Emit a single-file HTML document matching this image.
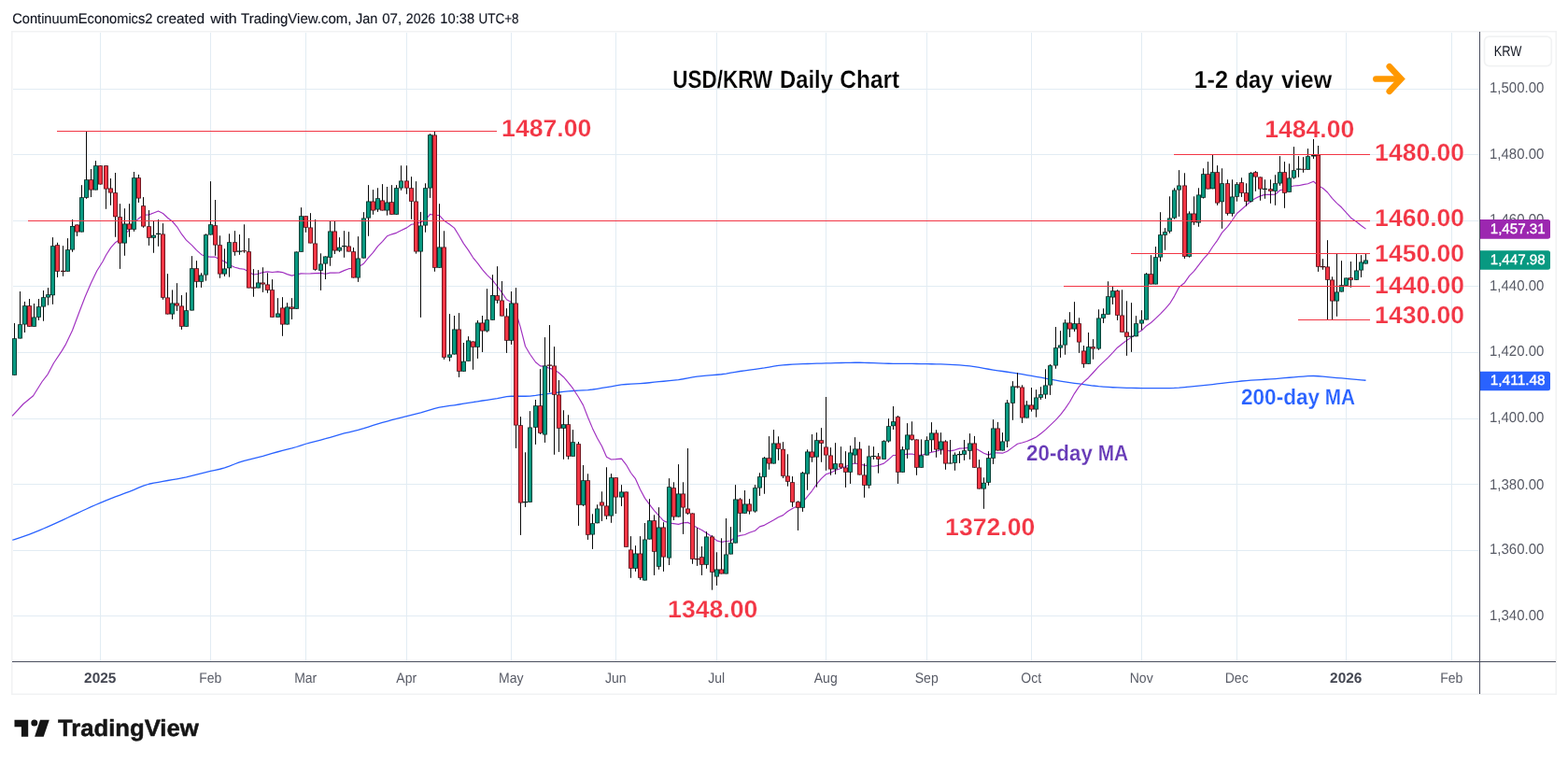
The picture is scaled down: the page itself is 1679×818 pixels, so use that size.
<!DOCTYPE html>
<html lang="en"><head><meta charset="utf-8"><title>USD/KRW Daily Chart</title>
<style>html,body{margin:0;padding:0;background:#ffffff;}body{width:1679px;height:818px;overflow:hidden;position:relative;font-family:"Liberation Sans",Arial,sans-serif;}svg{position:absolute;left:0;top:0;display:block;}text{font-family:"Liberation Sans",Arial,sans-serif;text-rendering:geometricPrecision;}.b{font-weight:bold;}</style>
</head><body>
<svg width="1679" height="818" viewBox="0 0 1679 818">
<rect x="0" y="0" width="1679" height="818" fill="#ffffff"/>
<rect x="12.75" y="33.75" width="1653.5" height="709.5" fill="#ffffff" stroke="#f1f2f3" stroke-width="1.5"/>
<g stroke="#e2ecf3" stroke-width="1" shape-rendering="crispEdges">
<line x1="14" y1="95.5" x2="1584" y2="95.5"/>
<line x1="14" y1="165.5" x2="1584" y2="165.5"/>
<line x1="14" y1="236.5" x2="1584" y2="236.5"/>
<line x1="14" y1="306.5" x2="1584" y2="306.5"/>
<line x1="14" y1="377.5" x2="1584" y2="377.5"/>
<line x1="14" y1="448.5" x2="1584" y2="448.5"/>
<line x1="14" y1="518.5" x2="1584" y2="518.5"/>
<line x1="14" y1="589.5" x2="1584" y2="589.5"/>
<line x1="14" y1="659.5" x2="1584" y2="659.5"/>
<line x1="107.5" y1="35" x2="107.5" y2="708"/>
<line x1="225.5" y1="35" x2="225.5" y2="708"/>
<line x1="327.5" y1="35" x2="327.5" y2="708"/>
<line x1="435.5" y1="35" x2="435.5" y2="708"/>
<line x1="547.5" y1="35" x2="547.5" y2="708"/>
<line x1="659.5" y1="35" x2="659.5" y2="708"/>
<line x1="767.5" y1="35" x2="767.5" y2="708"/>
<line x1="884.5" y1="35" x2="884.5" y2="708"/>
<line x1="992.5" y1="35" x2="992.5" y2="708"/>
<line x1="1104.5" y1="35" x2="1104.5" y2="708"/>
<line x1="1222.5" y1="35" x2="1222.5" y2="708"/>
<line x1="1324.5" y1="35" x2="1324.5" y2="708"/>
<line x1="1441.5" y1="35" x2="1441.5" y2="708"/>
<line x1="1554.5" y1="35" x2="1554.5" y2="708"/>
</g>
<polyline fill="none" stroke="#2962ff" stroke-width="1.3" stroke-linejoin="round" points="13.25,578.25 15.5,577.55 21.5,575.6 26.5,573.88 31.5,572.07 36.5,570.17 41.5,568.15 46.5,566.01 51.5,563.81 56.5,561.57 61.5,559.33 67.5,556.57 72.5,554.24 77.5,551.9 82.5,549.6 87.5,547.28 92.5,544.98 97.5,542.71 102.5,540.5 107.5,538.36 113.5,535.86 118.5,533.84 123.5,531.9 128.5,530.03 133.5,528.2 138.5,526.33 143.5,524.3 148.5,522.09 153.5,520.04 159.5,518.25 164.5,517.2 169.5,516.3 174.5,515.38 179.5,514.49 184.5,513.64 189.5,512.77 194.5,511.85 199.5,510.82 205.5,509.42 210.5,508.15 215.5,506.85 220.5,505.58 225.5,504.39 230.5,503.33 235.5,502.25 240.5,500.86 245.5,499.09 251.5,496.74 256.5,494.88 261.5,493.32 266.5,492.02 271.5,490.83 276.5,489.64 281.5,488.34 286.5,486.92 291.5,485.45 297.5,483.75 302.5,482.46 307.5,481.22 312.5,479.94 317.5,478.5 322.5,476.88 327.5,475.25 332.5,473.81 337.5,472.53 343.5,471.04 348.5,469.73 353.5,468.29 358.5,466.81 363.5,465.35 368.5,463.99 373.5,462.78 378.5,461.62 383.5,460.4 389.5,458.68 394.5,457.08 399.5,455.45 404.5,453.9 409.5,452.47 414.5,451.09 419.5,449.74 424.5,448.43 429.5,447.13 435.5,445.62 440.5,444.4 445.5,443.16 450.5,441.86 455.5,440.38 460.5,438.79 465.5,437.32 470.5,436.15 475.5,435.3 481.5,434.44 486.5,433.77 491.5,433.01 496.5,432.2 501.5,431.38 506.5,430.56 511.5,429.77 516.5,429.01 521.5,428.27 527.5,427.38 532.5,426.57 537.5,425.54 542.5,424.64 547.5,424.25 552.5,424.25 557.5,424.25 562.5,424.25 567.5,424.16 573.5,423.45 578.5,422.7 583.5,422.06 588.5,421.38 593.5,420.69 598.5,420.01 603.5,419.39 608.5,418.88 613.5,418.5 619.5,418.17 624.5,417.9 629.5,417.54 634.5,417 639.5,416.27 644.5,415.47 649.5,414.68 654.5,413.78 659.5,412.86 665.5,411.96 670.5,411.51 675.5,411.2 680.5,410.94 685.5,410.64 690.5,410.25 695.5,409.75 700.5,409.22 705.5,408.7 710.5,408.23 716.5,407.67 721.5,407.16 726.5,406.55 731.5,405.74 736.5,404.81 741.5,403.89 746.5,403.12 751.5,402.58 756.5,402.14 762.5,401.68 767.5,401.26 772.5,400.75 777.5,400.05 782.5,399.2 787.5,398.31 792.5,397.5 797.5,396.8 802.5,396.16 808.5,395.39 813.5,394.72 818.5,393.94 823.5,393.04 828.5,392.15 833.5,391.42 838.5,390.91 843.5,390.5 848.5,390.18 854.5,389.89 859.5,389.69 864.5,389.51 869.5,389.35 874.5,389.21 879.5,389.08 884.5,388.95 889.5,388.81 894.5,388.68 900.5,388.52 905.5,388.41 910.5,388.32 915.5,388.27 920.5,388.25 925.5,388.33 930.5,388.5 935.5,388.72 940.5,388.95 946.5,389.18 951.5,389.27 956.5,389.32 961.5,389.36 966.5,389.39 971.5,389.43 976.5,389.47 981.5,389.52 986.5,389.58 992.5,389.65 997.5,389.73 1002.5,389.83 1007.5,389.94 1012.5,390.08 1017.5,390.28 1022.5,390.56 1027.5,390.9 1032.5,391.29 1038.5,391.87 1043.5,392.6 1048.5,393.47 1053.5,394.39 1058.5,395.26 1063.5,396.04 1068.5,396.78 1073.5,397.51 1078.5,398.25 1084.5,399.14 1089.5,399.92 1094.5,400.73 1099.5,401.56 1104.5,402.41 1109.5,403.28 1114.5,404.16 1119.5,405.09 1124.5,406.06 1130.5,407.21 1135.5,408.08 1140.5,408.87 1145.5,409.6 1150.5,410.3 1155.5,410.98 1160.5,411.66 1165.5,412.36 1170.5,413.02 1176.5,413.66 1181.5,414.07 1186.5,414.42 1191.5,414.73 1196.5,414.97 1201.5,415.15 1206.5,415.29 1211.5,415.42 1216.5,415.52 1222.5,415.59 1227.5,415.6 1232.5,415.6 1237.5,415.6 1242.5,415.6 1247.5,415.6 1252.5,415.58 1257.5,415.4 1262.5,415.09 1268.5,414.58 1273.5,414.11 1278.5,413.62 1283.5,413.16 1288.5,412.67 1293.5,412.11 1298.5,411.53 1303.5,410.95 1308.5,410.39 1314.5,409.7 1319.5,409.1 1324.5,408.53 1329.5,408 1334.5,407.54 1339.5,407.17 1344.5,406.84 1349.5,406.55 1354.5,406.26 1360.5,405.89 1365.5,405.53 1370.5,405.12 1375.5,404.69 1380.5,404.26 1385.5,403.85 1390.5,403.46 1395.5,403.03 1400.5,402.65 1406.5,402.52 1411.5,402.76 1416.5,403.19 1421.5,403.69 1426.5,404.12 1431.5,404.53 1436.5,404.94 1441.5,405.36 1446.5,405.8 1452.5,406.33 1457.5,406.78 1462.5,407.25"/>
<polyline fill="none" stroke="#a030c0" stroke-width="1.15" stroke-linejoin="round" points="13.1,445.4 25,432.5 35.6,423.75 45,408.75 51.25,400.6 57.5,388.75 66.25,375.6 70,369.4 77.5,353.75 85,333.75 91.25,317.5 97.5,303.1 103.75,290 110,280 113.5,273.2 118.5,265.41 123.5,259.66 128.5,256.32 133.5,250.8 138.5,246.12 143.5,239.22 148.5,233.94 153.5,230.3 159.5,229.88 164.5,227.93 169.5,225.91 174.5,228.48 179.5,233.21 184.5,237 189.5,242.81 194.5,250.69 199.5,257.13 205.5,262.63 210.5,267.84 215.5,272.43 220.5,274.67 225.5,275.07 230.5,275.18 235.5,277.88 240.5,279.98 245.5,283.42 251.5,286.28 256.5,287.57 261.5,288.29 266.5,291.13 271.5,294.04 276.5,293.22 281.5,291.62 286.5,290.93 291.5,291.54 297.5,290.83 302.5,291.59 307.5,293.65 312.5,295.1 317.5,293.85 322.5,292.85 327.5,293.02 332.5,292.92 337.5,292.68 343.5,292.43 348.5,293.2 353.5,292.09 358.5,292.1 363.5,291.88 368.5,289.62 373.5,287.67 378.5,287.42 383.5,286.02 389.5,282.16 394.5,275.95 399.5,270.45 404.5,263.68 409.5,258.53 414.5,252.83 419.5,250.84 424.5,249.34 429.5,246.82 435.5,243.88 440.5,240.22 445.5,239.57 450.5,237.91 455.5,235.6 460.5,229.38 465.5,230.47 470.5,230.54 475.5,236.2 481.5,240.3 486.5,244.1 491.5,252.31 496.5,260.87 501.5,267.83 506.5,275.8 511.5,281.8 516.5,288.7 521.5,294.33 527.5,300.07 532.5,306.48 537.5,313.33 542.5,320.78 547.5,323.53 552.5,334.24 557.5,351.1 562.5,370.76 567.5,379.29 573.5,387.79 578.5,391.84 583.5,392.43 588.5,394.38 593.5,395.63 598.5,399.23 603.5,403.72 608.5,409.57 613.5,415.96 619.5,425.27 624.5,433.87 629.5,446.71 634.5,458.64 639.5,468.93 644.5,477.77 649.5,489.18 654.5,491.96 659.5,491.67 665.5,491.13 670.5,497.54 675.5,506.27 680.5,512.71 685.5,524.08 690.5,533.39 695.5,540.12 700.5,546.72 705.5,552.22 710.5,557.62 716.5,560.02 721.5,560.66 726.5,561.37 731.5,559.91 736.5,559.38 741.5,562.1 746.5,564.96 751.5,567.57 756.5,570.72 762.5,574.73 767.5,578.88 772.5,580.32 777.5,579.55 782.5,578.98 787.5,574.76 792.5,573.37 797.5,572.48 802.5,570.32 808.5,568.22 813.5,563.9 818.5,562.35 823.5,559.5 828.5,556.8 833.5,553.66 838.5,551.65 843.5,547.49 848.5,544.44 854.5,541.4 859.5,538 864.5,531.53 869.5,525.54 874.5,518.38 879.5,512.45 884.5,507.76 889.5,506.17 894.5,503.5 900.5,501.55 905.5,499.45 910.5,497.56 915.5,496.07 920.5,496.98 925.5,498.14 930.5,498.84 935.5,499.22 940.5,498.32 946.5,496.15 951.5,492.07 956.5,487.45 961.5,487.42 966.5,487.31 971.5,486.1 976.5,486.06 981.5,487.37 986.5,487.37 992.5,485.8 997.5,484.16 1002.5,483.21 1007.5,481.56 1012.5,482.16 1017.5,482.91 1022.5,481.82 1027.5,480.15 1032.5,479.84 1038.5,479.15 1043.5,479.6 1048.5,482.16 1053.5,485.18 1058.5,487.13 1063.5,484.77 1068.5,484.83 1073.5,485.18 1078.5,483.22 1084.5,478.85 1089.5,475.21 1094.5,474.02 1099.5,472.52 1104.5,470.37 1109.5,468.02 1114.5,464.3 1119.5,460.16 1124.5,455.39 1130.5,449.69 1135.5,444.05 1140.5,437.6 1145.5,430.2 1150.5,421.33 1155.5,413.83 1160.5,408.81 1165.5,404.45 1170.5,399 1176.5,392.39 1181.5,387.64 1186.5,382.84 1191.5,377.67 1196.5,372.18 1201.5,368.29 1206.5,364.4 1211.5,361.12 1216.5,357.32 1222.5,353.82 1227.5,348.91 1232.5,345.52 1237.5,340.81 1242.5,336.1 1247.5,330.88 1252.5,325.24 1257.5,317.08 1262.5,307.51 1268.5,302.68 1273.5,295.43 1278.5,290.32 1283.5,283.93 1288.5,277.38 1293.5,271.94 1298.5,264.26 1303.5,257.35 1308.5,249.13 1314.5,242.58 1319.5,235.79 1324.5,228.52 1329.5,224.2 1334.5,219.76 1339.5,215.27 1344.5,212.17 1349.5,209.89 1354.5,208.33 1360.5,208.39 1365.5,208.28 1370.5,203.76 1375.5,202.67 1380.5,200.28 1385.5,198.97 1390.5,198.69 1395.5,197.65 1400.5,196.8 1406.5,194.22 1411.5,198.69 1416.5,201.54 1421.5,206.01 1426.5,212.27 1431.5,217.57 1436.5,222.05 1441.5,227.66 1446.5,233.18 1452.5,237.53 1457.5,241.44 1462.5,245.14"/>
<path d="M15.5 346.02V401.67M21.5 312.05V362.53M26.5 322.93V356.02M31.5 320.06V349.64M36.5 325.03V349.64M41.5 320.06V342.89M46.5 311.05V343.76M51.5 308.17V326.78M56.5 254.14V325.84M61.5 259.77V296.92M67.5 263.15V295.79M72.5 255.14V290.66M77.5 235.01V269.78M82.5 240.38V252.89M87.5 198.17V248.51M92.5 140.38V212.8M97.5 181.03V211.05M102.5 172.15V203.42M107.5 177.28V197.54M113.5 177.28V223.81M118.5 191.04V219.8M123.5 185.03V253.77M128.5 218.18V287.91M133.5 223.18V273.78M138.5 218.18V253.77M143.5 184.03V247.89M148.5 186.91V216.93M153.5 211.05V243.76M159.5 225.06V262.9M164.5 237.01V270.78M169.5 235.01V263.77M174.5 239.13V320.81M179.5 293.16V336.51M184.5 310.43V341.89M189.5 303.17V332.88M194.5 316.05V352.89M199.5 313.18V349.64M205.5 274.15V332.51M210.5 279.16V307.92M215.5 292.29V307.92M220.5 250.29V300.64M225.5 194.13V251.54M230.5 214.02V273.78M235.5 252.29V297.77M240.5 266.3V295.89M245.5 250.29V296.64M251.5 247.16V273.78M256.5 251.04V272.81M261.5 240.29V270.68M266.5 255.04V308.4M271.5 288.14V317.78M276.5 289.14V308.4M281.5 286.26V312.9M286.5 292.26V313.78M291.5 299.14V339.67M297.5 319.15V339.67M302.5 318.15V359.8M307.5 324.16V347.55M312.5 319.15V341.92M317.5 269.43V330.66M322.5 222.15V269.68M327.5 231.28V248.79M332.5 228.15V260.42M337.5 235.03V289.76M343.5 271.3V310.9M348.5 274.43V299.02M353.5 236.66V284.76M358.5 236.66V271.93M363.5 254.17V269.8M368.5 247.16V275.78M373.5 248.17V269.43M378.5 265.05V297.52M383.5 253.17V301.89M389.5 227.15V276.56M394.5 198.14V252.79M399.5 203.14V229.78M404.5 201.26V226.9M409.5 197.14V225.4M414.5 200.01V230.66M419.5 198.14V229.65M424.5 198.15V229.67M429.5 177.28V203.79M435.5 177.28V207.8M440.5 189.16V234.76M445.5 194.16V271.65M450.5 226.93V339.89M455.5 196.29V248.76M460.5 143.13V211.92M465.5 140.38V290.79M470.5 218.18V286.66M475.5 247.26V384.91M481.5 336.13V386.79M486.5 338.01V379.53M491.5 335.13V403.92M496.5 367.03V397.67M501.5 360.15V386.66M506.5 365.4V395.79M511.5 343.01V383.91M516.5 338.01V377.03M521.5 309.17V355.77M527.5 294.17V342.64M532.5 285.16V324.81M537.5 301.04V338.51M542.5 330.13V377.91M547.5 312.05V368.9M552.5 308.17V479.91M557.5 446.14V572.92M562.5 484.29V542.9M567.5 440.14V537.77M573.5 428.01V475.91M578.5 395.17V464.9M583.5 361.15V473.91M588.5 348.02V420.18M593.5 371.15V486.79M598.5 407.05V483.91M603.5 439.26V491.79M608.5 444.27V491.79M613.5 460.15V488.67M619.5 473.03V562.91M624.5 498.05V541.9M629.5 507.29V577.91M634.5 550.3V587.9M639.5 540.29V560.3M644.5 526.28V557.93M649.5 500.27V556.05M654.5 507.15V559.8M659.5 511.27V550.05M665.5 519.15V541.92M670.5 526.53V585.65M675.5 574.14V618.79M680.5 584.15V611.91M685.5 574.14V620.92M690.5 560.01V621.55M695.5 534.16V577.52M700.5 551.3V615.92M705.5 543.17V609.79M710.5 559.18V611.91M716.5 512.15V605.04M721.5 516.28V556.93M726.5 497.14V553.55M731.5 516.28V571.89M736.5 480.01V551.05M741.5 549.42V603.78M746.5 565.16V605.91M751.5 585.02V615.92M756.5 569.14V608.79M762.5 573.14V631.68M767.5 591.28V626.92M772.5 576.27V614.42M777.5 555.01V614.42M782.5 564.14V593.4M787.5 519.15V581.52M792.5 533.16V569.68M797.5 525.03V549.67M802.5 534.16V550.67M808.5 519.15V548.8M813.5 506.27V530.91M818.5 489.14V528.78M823.5 467.08V502.77M828.5 460.14V496.52M833.5 467.28V492.84M838.5 473.16V511.93M843.5 486.29V520.68M848.5 510.05V542.79M854.5 536.28V567.93M859.5 505.05V547.92M864.5 481.29V524.78M869.5 465.03V494.79M874.5 463.15V521.65M879.5 458.15V494.79M884.5 425V503.8M889.5 479.16V508.8M894.5 474.16V507.93M900.5 478.16V501.92M905.5 483.16V521.9M910.5 477.16V517.93M915.5 468.15V496.3M920.5 473.16V508.55M925.5 496.3V532.78M930.5 477.16V522.9M935.5 478.16V491.92M940.5 485.04V506.68M946.5 471.28V491.67M951.5 448.14V473.78M956.5 435.01V460.02M961.5 445.01V517.93M966.5 478.16V505.68M971.5 453.14V490.92M976.5 451.27V471.66M981.5 470.41V508.8M986.5 470.41V500.67M992.5 467.28V487.54M997.5 452.14V483.79M1002.5 460.27V489.79M1007.5 463.15V486.66M1012.5 471.28V502.8M1017.5 471.03V496.55M1022.5 484.41V503.8M1027.5 483.16V495.92M1032.5 471.03V492.92M1038.5 464.14V491.91M1043.5 466.89V500.66M1048.5 492.15V523.54M1053.5 511.29V544.81M1058.5 483.14V519.79M1063.5 449.18V496.9M1068.5 451.88V482.52M1073.5 463.13V482.52M1078.5 428.17V479.02M1084.5 408.15V449.8M1089.5 399.15V415.66M1094.5 412.28V452.93M1099.5 429.17V447.55M1104.5 415.03V440.67M1109.5 417.16V446.68M1114.5 414.16V427.92M1119.5 395.27V426.91M1124.5 390.02V422.91M1130.5 350.05V394.77M1135.5 354.18V382.89M1140.5 342.17V379.76M1145.5 334.16V360.93M1150.5 323.16V355.05M1155.5 340.29V377.89M1160.5 370.01V393.77M1165.5 356.05V389.77M1170.5 363.13V384.76M1176.5 331.29V374.76M1181.5 330.29V345.92M1186.5 301.27V336.66M1191.5 306.9V325.91M1196.5 310.27V342.92M1201.5 310.27V355.68M1206.5 322.28V380.89M1211.5 324.16V376.89M1216.5 338.17V360.3M1222.5 332.16V353.42M1227.5 292.14V342.54M1232.5 273.13V304.4M1237.5 264.08V304.4M1242.5 227.18V279.9M1247.5 244.14V267.78M1252.5 210.29V249.77M1257.5 201.29V234.68M1262.5 182.15V231.93M1268.5 185.28V276.91M1273.5 226.3V275.66M1278.5 210.29V240.89M1283.5 201.29V242.77M1288.5 180.27V212.54M1293.5 173.14V202.54M1298.5 165.64V202.29M1303.5 177.15V219.8M1308.5 180.27V244.77M1314.5 192.28V230.68M1319.5 192.28V231.68M1324.5 195.03V215.67M1329.5 190.28V210.92M1334.5 196.28V220.67M1339.5 184.15V216.67M1344.5 183.15V204.79M1349.5 189.4V214.79M1354.5 192.28V212.79M1360.5 192.28V217.8M1365.5 187.28V219.8M1370.5 167.14V198.78M1375.5 173.14V222.8M1380.5 175.27V205.66M1385.5 157.14V191.66M1390.5 167.14V189.78M1395.5 168.14V184.78M1400.5 159.14V181.65M1406.5 149.01V170.02M1411.5 156.01V290.92M1416.5 277.16V288.79M1421.5 257.15V342.56M1426.5 296.3V342.56M1431.5 271.91V338.8M1436.5 279.16V312.55M1441.5 297.55V305.68M1446.5 280.04V307.81M1452.5 271.89V299.65M1457.5 273.14V296.9M1462.5 271.89V282.52" stroke="#0a0a0a" stroke-width="1" fill="none"/>
<path d="M29 327.25h5v22.39h-5zM59 262.27h5v28.39h-5zM65 289.81h5v1.2h-5zM80 240.38h5v8.13h-5zM95 192.16h5v11.26h-5zM105 177.28h5v20.26h-5zM111 177.28h5v25.27h-5zM116 201.54h5v5h-5zM121 206.3h5v25.96h-5zM126 232.25h5v28.14h-5zM136 239.38h5v6.25h-5zM146 190.29h5v22.26h-5zM151 220.3h5v22.21h-5zM157 242.26h5v12.51h-5zM172 250.39h5v68.42h-5zM177 318.56h5v17.95h-5zM187 324.41h5v3.1h-5zM192 327.5h5v22.14h-5zM208 287.29h5v14.38h-5zM228 241.29h5v21.26h-5zM233 262.3h5v31.22h-5zM249 259.17h5v10.51h-5zM259 268.14h5v1.2h-5zM264 269.18h5v39.22h-5zM269 307.55h5v1.2h-5zM279 302.52h5v1.88h-5zM284 304.4h5v6.25h-5zM289 310.27h5v29.39h-5zM300 329.41h5v18.14h-5zM310 328.41h5v2.25h-5zM325 231.28h5v12.51h-5zM330 243.41h5v17.01h-5zM335 260.42h5v28.34h-5zM356 247.54h5v21.01h-5zM371 263.42h5v6h-5zM376 269.18h5v28.34h-5zM397 215.4h5v10.01h-5zM407 214.4h5v11.01h-5zM417 216.27h5v13.38h-5zM433 193.41h5v8.13h-5zM438 201.29h5v14.38h-5zM443 215.43h5v54.1h-5zM463 144.38h5v142.28h-5zM473 264.4h5v118.26h-5zM489 352.39h5v45.28h-5zM504 365.4h5v6.25h-5zM514 345.39h5v9.13h-5zM530 316.3h5v5.38h-5zM535 321.43h5v17.08h-5zM540 338.51h5v26.27h-5zM550 324.47h5v131.05h-5zM555 455.27h5v83.25h-5zM576 434.26h5v29.39h-5zM586 390.57h5v1.2h-5zM591 391.42h5v31.24h-5zM596 422.41h5v36.24h-5zM606 454.27h5v34.4h-5zM617 475.28h5v65.36h-5zM627 514.35h5v58.36h-5zM642 537.54h5v4h-5zM647 541.54h5v11.01h-5zM657 511.27h5v21.26h-5zM668 526.53h5v59.12h-5zM673 588.4h5v20.39h-5zM683 592.53h5v26.27h-5zM698 557.28h5v33.37h-5zM708 564.41h5v32.12h-5zM719 522.28h5v31.27h-5zM729 528.41h5v15.13h-5zM734 544.42h5v5.38h-5zM739 549.42h5v49.36h-5zM744 597.93h5v1.2h-5zM749 596.28h5v8.38h-5zM760 574.39h5v38.4h-5zM770 609.41h5v5h-5zM790 534.41h5v15.26h-5zM800 539.42h5v8.13h-5zM821 490.26h5v6.25h-5zM831 474.39h5v6.25h-5zM836 480.66h5v29.02h-5zM841 509.43h5v6.25h-5zM846 516.29h5v21.49h-5zM852 537.28h5v6.5h-5zM867 483.41h5v6.25h-5zM877 471.28h5v3.38h-5zM882 478.41h5v9.13h-5zM887 487.54h5v15.01h-5zM898 496.3h5v4.13h-5zM903 500.42h5v5.25h-5zM918 480.41h5v28.14h-5zM923 508.55h5v11.13h-5zM938 488.42h5v3.25h-5zM959 446.27h5v59.41h-5zM974 465.4h5v5.25h-5zM979 470.41h5v30.27h-5zM1000 463.4h5v18.14h-5zM1010 472.53h5v24.01h-5zM1041 474.39h5v26.27h-5zM1046 500.41h5v23.14h-5zM1066 458.38h5v24.14h-5zM1087 413.41h5v1.25h-5zM1092 414.41h5v33.14h-5zM1102 433.42h5v5.13h-5zM1143 345.42h5v7.13h-5zM1153 346.3h5v20.3h-5zM1158 375.38h5v14.38h-5zM1168 371.26h5v2.25h-5zM1194 311.27h5v26.52h-5zM1199 337.54h5v18.14h-5zM1204 355.43h5v5.25h-5zM1230 293.14h5v11.26h-5zM1266 198.41h5v76.25h-5zM1276 228.55h5v9.63h-5zM1291 186.28h5v16.26h-5zM1301 184.15h5v33.39h-5zM1312 196.28h5v32.52h-5zM1327 195.28h5v11.38h-5zM1332 206.29h5v9.38h-5zM1342 184.15h5v5.25h-5zM1347 189.4h5v13.13h-5zM1358 202.29h5v2.38h-5zM1373 184.15h5v22.51h-5zM1393 180.67h5v1.2h-5zM1409 165.64h5v120.03h-5zM1414 285.07h5v1.2h-5zM1419 285.42h5v14.31h-5zM1424 299.43h5v23.12h-5zM1444 297.3h5v2.5h-5z" fill="#4a0d14"/>
<path d="M13 362.28h5v39.4h-5zM19 347.27h5v15.26h-5zM24 327.25h5v20.26h-5zM34 339.39h5v10.26h-5zM39 328.13h5v11.51h-5zM44 318.3h5v10.2h-5zM49 315.18h5v3.38h-5zM54 263.15h5v53.16h-5zM70 267.27h5v23.39h-5zM75 242.01h5v25.52h-5zM85 211.3h5v37.22h-5zM90 192.16h5v19.51h-5zM100 177.28h5v26.14h-5zM131 239.38h5v21.01h-5zM141 190.29h5v55.35h-5zM162 251.64h5v3.13h-5zM167 249.79h5v1.2h-5zM182 324.41h5v12.1h-5zM197 332.26h5v17.39h-5zM203 287.29h5v45.22h-5zM213 294.42h5v7.25h-5zM218 251.29h5v43.1h-5zM223 240.29h5v11.26h-5zM238 287.51h5v6h-5zM243 259.17h5v28.09h-5zM254 268.43h5v1.25h-5zM274 302.52h5v5.88h-5zM295 335.41h5v4.25h-5zM305 328.41h5v19.14h-5zM315 269.43h5v61.23h-5zM320 231.28h5v38.4h-5zM341 282.51h5v7.13h-5zM346 274.53h5v7.98h-5zM351 247.54h5v28.11h-5zM361 264.8h5v3.75h-5zM366 263.01h5v1.2h-5zM381 276.41h5v21.11h-5zM387 233.41h5v43.15h-5zM392 215.4h5v18.14h-5zM402 212.27h5v12.13h-5zM412 216.52h5v8.88h-5zM422 201.28h5v28.39h-5zM427 193.41h5v8.13h-5zM448 241.38h5v28.14h-5zM453 201.29h5v40.09h-5zM458 144.13h5v57.41h-5zM468 264.4h5v22.26h-5zM479 379.53h5v3.13h-5zM484 352.39h5v27.14h-5zM494 386.66h5v11.01h-5zM499 364.53h5v22.14h-5zM509 345.39h5v26.27h-5zM519 342.26h5v12.26h-5zM525 316.05h5v26.58h-5zM545 324.47h5v40.31h-5zM560 537.04h5v1.2h-5zM565 457.4h5v80.37h-5zM571 434.26h5v23.51h-5zM581 391.42h5v74.11h-5zM601 454.27h5v4.38h-5zM611 473.28h5v15.38h-5zM622 514.34h5v26.3h-5zM632 560.34h5v12.17h-5zM637 544.42h5v15.88h-5zM652 511.27h5v41.27h-5zM663 526.53h5v6h-5zM678 592.53h5v16.26h-5zM688 577.52h5v44.03h-5zM693 557.28h5v20.24h-5zM703 564.41h5v42.25h-5zM714 521.28h5v76.25h-5zM724 528.41h5v25.14h-5zM754 574.39h5v30.27h-5zM765 609.41h5v8.13h-5zM775 593.4h5v21.01h-5zM780 581.27h5v12.13h-5zM785 534.41h5v47.11h-5zM795 539.42h5v10.26h-5zM806 522.28h5v25.27h-5zM811 510.27h5v12.26h-5zM816 490.26h5v20.39h-5zM826 474.38h5v22.14h-5zM857 506.28h5v37.5h-5zM862 483.41h5v24.14h-5zM872 471.28h5v18.14h-5zM892 496.3h5v6.25h-5zM908 484.41h5v21.26h-5zM913 480.41h5v7.13h-5zM928 488.42h5v31.27h-5zM933 487.88h5v1.2h-5zM944 472.28h5v19.39h-5zM949 456.27h5v16.26h-5zM954 451.27h5v5h-5zM964 481.29h5v24.39h-5zM969 465.4h5v16.13h-5zM984 487.54h5v13.13h-5zM990 471.28h5v16.26h-5zM995 463.4h5v7.88h-5zM1005 472.53h5v9.01h-5zM1015 495.38h5v1.2h-5zM1020 486.66h5v9.01h-5zM1025 486h5v1.2h-5zM1030 482.16h5v4.5h-5zM1036 474.4h5v8.25h-5zM1051 516.66h5v6.88h-5zM1056 490.27h5v26.39h-5zM1061 458.41h5v32.24h-5zM1071 472.51h5v10.01h-5zM1076 431.29h5v41.22h-5zM1082 413.41h5v18.26h-5zM1097 433.42h5v14.13h-5zM1107 425.41h5v13.13h-5zM1112 422.29h5v3.38h-5zM1117 412.53h5v10.01h-5zM1122 391.27h5v21.26h-5zM1128 372.26h5v19.26h-5zM1133 369.41h5v3.1h-5zM1138 345.42h5v24.11h-5zM1148 346.3h5v6.25h-5zM1163 371.26h5v18.51h-5zM1174 340.42h5v33.09h-5zM1179 336.29h5v4.38h-5zM1184 317.28h5v19.39h-5zM1189 311.27h5v7.25h-5zM1209 359.64h5v1.2h-5zM1214 346.3h5v14.01h-5zM1220 342.54h5v4h-5zM1225 293.14h5v49.4h-5zM1235 275.25h5v29.14h-5zM1240 251.27h5v24.19h-5zM1245 248.14h5v3.5h-5zM1250 233.43h5v14.34h-5zM1255 203.41h5v30.02h-5zM1260 198.41h5v5h-5zM1271 228.47h5v46.19h-5zM1281 208.42h5v30.02h-5zM1286 186.28h5v25.39h-5zM1296 184.15h5v18.14h-5zM1306 196.28h5v20.01h-5zM1317 210.42h5v18.39h-5zM1322 197.28h5v13.38h-5zM1337 185.28h5v30.39h-5zM1352 201.75h5v1.2h-5zM1363 196.28h5v8.38h-5zM1368 184.15h5v12.38h-5zM1378 190.41h5v15.26h-5zM1383 182.28h5v8.13h-5zM1388 180.49h5v1.2h-5zM1398 167.14h5v14.51h-5zM1404 166.02h5v1.5h-5zM1429 312.55h5v10h-5zM1434 305.3h5v7.24h-5zM1439 297.55h5v8.13h-5zM1450 289.52h5v10.13h-5zM1455 280.39h5v9.13h-5zM1460 278.52h5v4h-5z" fill="#03261f"/>
<path d="M13.75 363.03h3.5v37.9h-3.5zM19.75 348.02h3.5v13.76h-3.5zM24.75 328h3.5v18.76h-3.5zM34.75 340.14h3.5v8.76h-3.5zM39.75 328.88h3.5v10.01h-3.5zM44.75 319.05h3.5v8.7h-3.5zM49.75 315.93h3.5v1.88h-3.5zM54.75 263.9h3.5v51.66h-3.5zM70.75 268.02h3.5v21.89h-3.5zM75.75 242.76h3.5v24.02h-3.5zM85.75 212.05h3.5v35.72h-3.5zM90.75 192.91h3.5v18.01h-3.5zM100.75 178.03h3.5v24.64h-3.5zM131.75 240.13h3.5v19.51h-3.5zM141.75 191.04h3.5v53.85h-3.5zM162.75 252.39h3.5v1.63h-3.5zM182.75 325.16h3.5v10.6h-3.5zM197.75 333.01h3.5v15.89h-3.5zM203.75 288.04h3.5v43.72h-3.5zM213.75 295.17h3.5v5.75h-3.5zM218.75 252.04h3.5v41.6h-3.5zM223.75 241.04h3.5v9.76h-3.5zM238.75 288.26h3.5v4.5h-3.5zM243.75 259.92h3.5v26.59h-3.5zM274.75 303.27h3.5v4.38h-3.5zM295.75 336.16h3.5v2.75h-3.5zM305.75 329.16h3.5v17.64h-3.5zM315.75 270.18h3.5v59.73h-3.5zM320.75 232.03h3.5v36.9h-3.5zM341.75 283.26h3.5v5.63h-3.5zM346.75 275.28h3.5v6.48h-3.5zM351.75 248.29h3.5v26.61h-3.5zM361.75 265.55h3.5v2.25h-3.5zM381.75 277.16h3.5v19.61h-3.5zM387.75 234.16h3.5v41.65h-3.5zM392.75 216.15h3.5v16.64h-3.5zM402.75 213.02h3.5v10.63h-3.5zM412.75 217.27h3.5v7.38h-3.5zM422.75 202.03h3.5v26.89h-3.5zM427.75 194.16h3.5v6.63h-3.5zM448.75 242.13h3.5v26.64h-3.5zM453.75 202.04h3.5v38.59h-3.5zM458.75 144.88h3.5v55.91h-3.5zM468.75 265.15h3.5v20.76h-3.5zM479.75 380.28h3.5v1.63h-3.5zM484.75 353.14h3.5v25.64h-3.5zM494.75 387.41h3.5v9.51h-3.5zM499.75 365.28h3.5v20.64h-3.5zM509.75 346.14h3.5v24.77h-3.5zM519.75 343.01h3.5v10.76h-3.5zM525.75 316.8h3.5v25.08h-3.5zM545.75 325.22h3.5v38.81h-3.5zM565.75 458.15h3.5v78.87h-3.5zM571.75 435.01h3.5v22.01h-3.5zM581.75 392.17h3.5v72.61h-3.5zM601.75 455.02h3.5v2.88h-3.5zM611.75 474.03h3.5v13.88h-3.5zM622.75 515.09h3.5v24.8h-3.5zM632.75 561.09h3.5v10.67h-3.5zM637.75 545.17h3.5v14.38h-3.5zM652.75 512.02h3.5v39.77h-3.5zM663.75 527.28h3.5v4.5h-3.5zM678.75 593.28h3.5v14.76h-3.5zM688.75 578.27h3.5v42.53h-3.5zM693.75 558.03h3.5v18.74h-3.5zM703.75 565.16h3.5v40.75h-3.5zM714.75 522.03h3.5v74.75h-3.5zM724.75 529.16h3.5v23.64h-3.5zM754.75 575.14h3.5v28.77h-3.5zM765.75 610.16h3.5v6.63h-3.5zM775.75 594.15h3.5v19.51h-3.5zM780.75 582.02h3.5v10.63h-3.5zM785.75 535.16h3.5v45.61h-3.5zM795.75 540.17h3.5v8.76h-3.5zM806.75 523.03h3.5v23.77h-3.5zM811.75 511.02h3.5v10.76h-3.5zM816.75 491.01h3.5v18.89h-3.5zM826.75 475.13h3.5v20.64h-3.5zM857.75 507.03h3.5v36h-3.5zM862.75 484.16h3.5v22.64h-3.5zM872.75 472.03h3.5v16.64h-3.5zM892.75 497.05h3.5v4.75h-3.5zM908.75 485.16h3.5v19.76h-3.5zM913.75 481.16h3.5v5.63h-3.5zM928.75 489.17h3.5v29.77h-3.5zM944.75 473.03h3.5v17.89h-3.5zM949.75 457.02h3.5v14.76h-3.5zM954.75 452.02h3.5v3.5h-3.5zM964.75 482.04h3.5v22.89h-3.5zM969.75 466.15h3.5v14.63h-3.5zM984.75 488.29h3.5v11.63h-3.5zM990.75 472.03h3.5v14.76h-3.5zM995.75 464.15h3.5v6.38h-3.5zM1005.75 473.28h3.5v7.51h-3.5zM1020.75 487.41h3.5v7.51h-3.5zM1030.75 482.91h3.5v3h-3.5zM1036.75 475.15h3.5v6.75h-3.5zM1051.75 517.41h3.5v5.38h-3.5zM1056.75 491.02h3.5v24.89h-3.5zM1061.75 459.16h3.5v30.74h-3.5zM1071.75 473.26h3.5v8.51h-3.5zM1076.75 432.04h3.5v39.72h-3.5zM1082.75 414.16h3.5v16.76h-3.5zM1097.75 434.17h3.5v12.63h-3.5zM1107.75 426.16h3.5v11.63h-3.5zM1112.75 423.04h3.5v1.88h-3.5zM1117.75 413.28h3.5v8.51h-3.5zM1122.75 392.02h3.5v19.76h-3.5zM1128.75 373.01h3.5v17.76h-3.5zM1133.75 370.16h3.5v1.6h-3.5zM1138.75 346.17h3.5v22.61h-3.5zM1148.75 347.05h3.5v4.75h-3.5zM1163.75 372.01h3.5v17.01h-3.5zM1174.75 341.17h3.5v31.59h-3.5zM1179.75 337.04h3.5v2.88h-3.5zM1184.75 318.03h3.5v17.89h-3.5zM1189.75 312.02h3.5v5.75h-3.5zM1214.75 347.05h3.5v12.51h-3.5zM1220.75 343.29h3.5v2.5h-3.5zM1225.75 293.89h3.5v47.9h-3.5zM1235.75 276h3.5v27.64h-3.5zM1240.75 252.02h3.5v22.69h-3.5zM1245.75 248.89h3.5v2h-3.5zM1250.75 234.18h3.5v12.84h-3.5zM1255.75 204.16h3.5v28.52h-3.5zM1260.75 199.16h3.5v3.5h-3.5zM1271.75 229.22h3.5v44.69h-3.5zM1281.75 209.17h3.5v28.52h-3.5zM1286.75 187.03h3.5v23.89h-3.5zM1296.75 184.9h3.5v16.64h-3.5zM1306.75 197.03h3.5v18.51h-3.5zM1317.75 211.17h3.5v16.89h-3.5zM1322.75 198.03h3.5v11.88h-3.5zM1337.75 186.03h3.5v28.89h-3.5zM1363.75 197.03h3.5v6.88h-3.5zM1368.75 184.9h3.5v10.88h-3.5zM1378.75 191.16h3.5v13.76h-3.5zM1383.75 183.03h3.5v6.63h-3.5zM1398.75 167.89h3.5v13.01h-3.5zM1429.75 313.3h3.5v8.5h-3.5zM1434.75 306.05h3.5v5.74h-3.5zM1439.75 298.3h3.5v6.63h-3.5zM1450.75 290.27h3.5v8.63h-3.5zM1455.75 281.14h3.5v7.63h-3.5zM1460.75 279.27h3.5v2.5h-3.5z" fill="#089981"/>
<path d="M29.75 328h3.5v20.89h-3.5zM59.75 263.02h3.5v26.89h-3.5zM80.75 241.13h3.5v6.63h-3.5zM95.75 192.91h3.5v9.76h-3.5zM105.75 178.03h3.5v18.76h-3.5zM111.75 178.03h3.5v23.77h-3.5zM116.75 202.29h3.5v3.5h-3.5zM121.75 207.05h3.5v24.46h-3.5zM126.75 233h3.5v26.64h-3.5zM136.75 240.13h3.5v4.75h-3.5zM146.75 191.04h3.5v20.76h-3.5zM151.75 221.05h3.5v20.71h-3.5zM157.75 243.01h3.5v11.01h-3.5zM172.75 251.14h3.5v66.92h-3.5zM177.75 319.31h3.5v16.45h-3.5zM187.75 325.16h3.5v1.6h-3.5zM192.75 328.25h3.5v20.64h-3.5zM208.75 288.04h3.5v12.88h-3.5zM228.75 242.04h3.5v19.76h-3.5zM233.75 263.05h3.5v29.72h-3.5zM249.75 259.92h3.5v9.01h-3.5zM264.75 269.93h3.5v37.72h-3.5zM279.75 303.27h3.5v0.38h-3.5zM284.75 305.15h3.5v4.75h-3.5zM289.75 311.02h3.5v27.89h-3.5zM300.75 330.16h3.5v16.64h-3.5zM310.75 329.16h3.5v0.75h-3.5zM325.75 232.03h3.5v11.01h-3.5zM330.75 244.16h3.5v15.51h-3.5zM335.75 261.17h3.5v26.84h-3.5zM356.75 248.29h3.5v19.51h-3.5zM371.75 264.17h3.5v4.5h-3.5zM376.75 269.93h3.5v26.84h-3.5zM397.75 216.15h3.5v8.51h-3.5zM407.75 215.15h3.5v9.51h-3.5zM417.75 217.02h3.5v11.88h-3.5zM433.75 194.16h3.5v6.63h-3.5zM438.75 202.04h3.5v12.88h-3.5zM443.75 216.18h3.5v52.6h-3.5zM463.75 145.13h3.5v140.78h-3.5zM473.75 265.15h3.5v116.76h-3.5zM489.75 353.14h3.5v43.78h-3.5zM504.75 366.15h3.5v4.75h-3.5zM514.75 346.14h3.5v7.63h-3.5zM530.75 317.05h3.5v3.88h-3.5zM535.75 322.18h3.5v15.58h-3.5zM540.75 339.26h3.5v24.77h-3.5zM550.75 325.22h3.5v129.55h-3.5zM555.75 456.02h3.5v81.75h-3.5zM576.75 435.01h3.5v27.89h-3.5zM591.75 392.17h3.5v29.74h-3.5zM596.75 423.16h3.5v34.74h-3.5zM606.75 455.02h3.5v32.9h-3.5zM617.75 476.03h3.5v63.86h-3.5zM627.75 515.1h3.5v56.86h-3.5zM642.75 538.29h3.5v2.5h-3.5zM647.75 542.29h3.5v9.51h-3.5zM657.75 512.02h3.5v19.76h-3.5zM668.75 527.28h3.5v57.62h-3.5zM673.75 589.15h3.5v18.89h-3.5zM683.75 593.28h3.5v24.77h-3.5zM698.75 558.03h3.5v31.87h-3.5zM708.75 565.16h3.5v30.62h-3.5zM719.75 523.03h3.5v29.77h-3.5zM729.75 529.16h3.5v13.63h-3.5zM734.75 545.17h3.5v3.88h-3.5zM739.75 550.17h3.5v47.86h-3.5zM749.75 597.03h3.5v6.88h-3.5zM760.75 575.14h3.5v36.9h-3.5zM770.75 610.16h3.5v3.5h-3.5zM790.75 535.16h3.5v13.76h-3.5zM800.75 540.17h3.5v6.63h-3.5zM821.75 491.01h3.5v4.75h-3.5zM831.75 475.14h3.5v4.75h-3.5zM836.75 481.41h3.5v27.52h-3.5zM841.75 510.18h3.5v4.75h-3.5zM846.75 517.04h3.5v19.99h-3.5zM852.75 538.03h3.5v5h-3.5zM867.75 484.16h3.5v4.75h-3.5zM877.75 472.03h3.5v1.88h-3.5zM882.75 479.16h3.5v7.63h-3.5zM887.75 488.29h3.5v13.51h-3.5zM898.75 497.05h3.5v2.63h-3.5zM903.75 501.17h3.5v3.75h-3.5zM918.75 481.16h3.5v26.64h-3.5zM923.75 509.3h3.5v9.63h-3.5zM938.75 489.17h3.5v1.75h-3.5zM959.75 447.02h3.5v57.91h-3.5zM974.75 466.15h3.5v3.75h-3.5zM979.75 471.16h3.5v28.77h-3.5zM1000.75 464.15h3.5v16.64h-3.5zM1010.75 473.28h3.5v22.51h-3.5zM1041.75 475.14h3.5v24.77h-3.5zM1046.75 501.16h3.5v21.64h-3.5zM1066.75 459.13h3.5v22.64h-3.5zM1092.75 415.16h3.5v31.64h-3.5zM1102.75 434.17h3.5v3.63h-3.5zM1143.75 346.17h3.5v5.63h-3.5zM1153.75 347.05h3.5v18.8h-3.5zM1158.75 376.13h3.5v12.88h-3.5zM1168.75 372.01h3.5v0.75h-3.5zM1194.75 312.02h3.5v25.02h-3.5zM1199.75 338.29h3.5v16.64h-3.5zM1204.75 356.18h3.5v3.75h-3.5zM1230.75 293.89h3.5v9.76h-3.5zM1266.75 199.16h3.5v74.75h-3.5zM1276.75 229.3h3.5v8.13h-3.5zM1291.75 187.03h3.5v14.76h-3.5zM1301.75 184.9h3.5v31.89h-3.5zM1312.75 197.03h3.5v31.02h-3.5zM1327.75 196.03h3.5v9.88h-3.5zM1332.75 207.04h3.5v7.88h-3.5zM1342.75 184.9h3.5v3.75h-3.5zM1347.75 190.15h3.5v11.63h-3.5zM1358.75 203.04h3.5v0.88h-3.5zM1373.75 184.9h3.5v21.01h-3.5zM1409.75 166.39h3.5v118.53h-3.5zM1419.75 286.17h3.5v12.81h-3.5zM1424.75 300.18h3.5v21.62h-3.5zM1444.75 298.05h3.5v1h-3.5z" fill="#f23645"/>
<g stroke="#f23645" stroke-width="1" shape-rendering="crispEdges">
<line x1="61" y1="140.5" x2="532" y2="140.5"/>
<line x1="30" y1="236.5" x2="1467" y2="236.5"/>
<line x1="1257" y1="165.5" x2="1467" y2="165.5"/>
<line x1="1211" y1="271.5" x2="1467" y2="271.5"/>
<line x1="1139" y1="306.5" x2="1467" y2="306.5"/>
<line x1="1390" y1="342.5" x2="1467" y2="342.5"/>
</g>
<g stroke="#4a4e5e" stroke-width="1" shape-rendering="crispEdges">
<line x1="1584.5" y1="34" x2="1584.5" y2="742.5"/>
<line x1="13" y1="708.5" x2="1666" y2="708.5"/>
</g>
<text y="24.82" font-size="15.18" fill="#131722" stroke="#131722" stroke-width="0.15" stroke-linejoin="round"><tspan x="13.32" textLength="150.02" lengthAdjust="spacingAndGlyphs">ContinuumEconomics2</tspan> <tspan x="167.57" textLength="51.55" lengthAdjust="spacingAndGlyphs">created</tspan> <tspan x="225.28" textLength="28.46" lengthAdjust="spacingAndGlyphs">with</tspan> <tspan x="258.12" textLength="118.25" lengthAdjust="spacingAndGlyphs">TradingView.com,</tspan> <tspan x="381.02" textLength="23.32" lengthAdjust="spacingAndGlyphs">Jan</tspan> <tspan x="409.22" textLength="20.9" lengthAdjust="spacingAndGlyphs">07,</tspan> <tspan x="434.82" textLength="31.36" lengthAdjust="spacingAndGlyphs">2026</tspan> <tspan x="471.36" textLength="36.74" lengthAdjust="spacingAndGlyphs">10:38</tspan> <tspan x="512.44" textLength="43.13" lengthAdjust="spacingAndGlyphs">UTC+8</tspan></text>
<text y="93.8" font-size="26.49" fill="#000000" class="b" stroke="#ffffff" stroke-width="0.2" stroke-linejoin="round"><tspan x="720.3" textLength="106.93" lengthAdjust="spacingAndGlyphs">USD/KRW</tspan> <tspan x="835" textLength="57" lengthAdjust="spacingAndGlyphs">Daily</tspan> <tspan x="899.32" textLength="63.95" lengthAdjust="spacingAndGlyphs">Chart</tspan></text>
<text y="93.8" font-size="26.09" fill="#000000" class="b" stroke="#ffffff" stroke-width="0.2" stroke-linejoin="round"><tspan x="1278.42" textLength="36.82" lengthAdjust="spacingAndGlyphs">1-2</tspan> <tspan x="1322.48" textLength="41.16" lengthAdjust="spacingAndGlyphs">day</tspan> <tspan x="1371.9" textLength="54.26" lengthAdjust="spacingAndGlyphs">view</tspan></text>
<text y="146" font-size="25.99" fill="#f23645" class="b" stroke="#ffffff" stroke-width="0.2" stroke-linejoin="round"><tspan x="537.13" textLength="96.18" lengthAdjust="spacingAndGlyphs">1487.00</tspan></text>
<text y="147.2" font-size="25.99" fill="#f23645" class="b" stroke="#ffffff" stroke-width="0.2" stroke-linejoin="round"><tspan x="1354.23" textLength="95.97" lengthAdjust="spacingAndGlyphs">1484.00</tspan></text>
<text y="172" font-size="25.99" fill="#f23645" class="b" stroke="#ffffff" stroke-width="0.2" stroke-linejoin="round"><tspan x="1472.13" textLength="95.92" lengthAdjust="spacingAndGlyphs">1480.00</tspan></text>
<text y="242" font-size="25.99" fill="#f23645" class="b" stroke="#ffffff" stroke-width="0.2" stroke-linejoin="round"><tspan x="1472.13" textLength="95.92" lengthAdjust="spacingAndGlyphs">1460.00</tspan></text>
<text y="279.9" font-size="25.99" fill="#f23645" class="b" stroke="#ffffff" stroke-width="0.2" stroke-linejoin="round"><tspan x="1472.13" textLength="95.92" lengthAdjust="spacingAndGlyphs">1450.00</tspan></text>
<text y="313.85" font-size="25.99" fill="#f23645" class="b" stroke="#ffffff" stroke-width="0.2" stroke-linejoin="round"><tspan x="1472.13" textLength="95.92" lengthAdjust="spacingAndGlyphs">1440.00</tspan></text>
<text y="345.7" font-size="25.99" fill="#f23645" class="b" stroke="#ffffff" stroke-width="0.2" stroke-linejoin="round"><tspan x="1472.13" textLength="95.92" lengthAdjust="spacingAndGlyphs">1430.00</tspan></text>
<text y="573" font-size="25.99" fill="#f23645" class="b" stroke="#ffffff" stroke-width="0.2" stroke-linejoin="round"><tspan x="1012.13" textLength="96.18" lengthAdjust="spacingAndGlyphs">1372.00</tspan></text>
<text y="661" font-size="25.99" fill="#f23645" class="b" stroke="#ffffff" stroke-width="0.2" stroke-linejoin="round"><tspan x="715.12" textLength="96.28" lengthAdjust="spacingAndGlyphs">1348.00</tspan></text>
<text y="493" font-size="23.59" fill="#673ab7" class="b" stroke="#ffffff" stroke-width="0.2" stroke-linejoin="round"><tspan x="1099.05" textLength="70.81" lengthAdjust="spacingAndGlyphs">20-day</tspan> <tspan x="1175.67" textLength="32.31" lengthAdjust="spacingAndGlyphs">MA</tspan></text>
<text y="433" font-size="23.59" fill="#2962ff" class="b" stroke="#ffffff" stroke-width="0.2" stroke-linejoin="round"><tspan x="1329.05" textLength="83.91" lengthAdjust="spacingAndGlyphs">200-day</tspan> <tspan x="1418.77" textLength="32.2" lengthAdjust="spacingAndGlyphs">MA</tspan></text>
<text y="664.4" font-size="15.7" fill="#585b66"><tspan x="1594.99" textLength="58.39" lengthAdjust="spacingAndGlyphs">1,340.00</tspan></text>
<text y="593.3" font-size="15.7" fill="#585b66"><tspan x="1594.99" textLength="58.39" lengthAdjust="spacingAndGlyphs">1,360.00</tspan></text>
<text y="523.6" font-size="15.7" fill="#585b66"><tspan x="1594.99" textLength="58.39" lengthAdjust="spacingAndGlyphs">1,380.00</tspan></text>
<text y="452.3" font-size="15.7" fill="#585b66"><tspan x="1594.99" textLength="58.39" lengthAdjust="spacingAndGlyphs">1,400.00</tspan></text>
<text y="380.9" font-size="15.7" fill="#585b66"><tspan x="1594.99" textLength="58.39" lengthAdjust="spacingAndGlyphs">1,420.00</tspan></text>
<text y="311.1" font-size="15.7" fill="#585b66"><tspan x="1594.99" textLength="58.39" lengthAdjust="spacingAndGlyphs">1,440.00</tspan></text>
<text y="240.4" font-size="15.7" fill="#585b66"><tspan x="1594.99" textLength="58.39" lengthAdjust="spacingAndGlyphs">1,460.00</tspan></text>
<text y="169.5" font-size="15.7" fill="#585b66"><tspan x="1594.99" textLength="58.39" lengthAdjust="spacingAndGlyphs">1,480.00</tspan></text>
<text y="98.9" font-size="15.7" fill="#585b66"><tspan x="1594.99" textLength="58.39" lengthAdjust="spacingAndGlyphs">1,500.00</tspan></text>
<path d="M1585 235.1 H1657.5 a2.5 2.5 0 0 1 2.5 2.5 V253.3 a2.5 2.5 0 0 1 -2.5 2.5 H1585z" fill="#9c27b0"/>
<text y="249.67" font-size="15.19" fill="#ffffff" stroke="#ffffff" stroke-width="0.35" stroke-linejoin="round"><tspan x="1595.73" textLength="58.99" lengthAdjust="spacingAndGlyphs">1,457.31</tspan></text>
<path d="M1585 268.2 H1657.5 a2.5 2.5 0 0 1 2.5 2.5 V286.25 a2.5 2.5 0 0 1 -2.5 2.5 H1585z" fill="#089981"/>
<text y="282.7" font-size="15.19" fill="#ffffff" stroke="#ffffff" stroke-width="0.35" stroke-linejoin="round"><tspan x="1595.73" textLength="58.99" lengthAdjust="spacingAndGlyphs">1,447.98</tspan></text>
<path d="M1585 397.8 H1657.5 a2.5 2.5 0 0 1 2.5 2.5 V415.8 a2.5 2.5 0 0 1 -2.5 2.5 H1585z" fill="#2962ff"/>
<text y="412.27" font-size="15.19" fill="#ffffff" stroke="#ffffff" stroke-width="0.35" stroke-linejoin="round"><tspan x="1595.71" textLength="59.02" lengthAdjust="spacingAndGlyphs">1,411.48</tspan></text>
<rect x="1589.5" y="39.1" width="71.8" height="31.5" rx="5" fill="#ffffff" stroke="#f1f2f3" stroke-width="1.7"/>
<text y="60" font-size="15.7" fill="#131722"><tspan x="1599.73" textLength="29.76" lengthAdjust="spacingAndGlyphs">KRW</tspan></text>
<text transform="translate(107.2 730.6) scale(1 1)" text-anchor="middle" font-size="15.4" fill="#434651" class="b">2025</text>
<text transform="translate(225.2 730.6) scale(0.91 1)" text-anchor="middle" font-size="15.4" fill="#585b66">Feb</text>
<text transform="translate(327.2 730.6) scale(0.91 1)" text-anchor="middle" font-size="15.4" fill="#585b66">Mar</text>
<text transform="translate(435.2 730.6) scale(0.91 1)" text-anchor="middle" font-size="15.4" fill="#585b66">Apr</text>
<text transform="translate(547.2 730.6) scale(0.91 1)" text-anchor="middle" font-size="15.4" fill="#585b66">May</text>
<text transform="translate(659.2 730.6) scale(0.91 1)" text-anchor="middle" font-size="15.4" fill="#585b66">Jun</text>
<text transform="translate(767.2 730.6) scale(0.91 1)" text-anchor="middle" font-size="15.4" fill="#585b66">Jul</text>
<text transform="translate(884.2 730.6) scale(0.91 1)" text-anchor="middle" font-size="15.4" fill="#585b66">Aug</text>
<text transform="translate(992.2 730.6) scale(0.91 1)" text-anchor="middle" font-size="15.4" fill="#585b66">Sep</text>
<text transform="translate(1104.2 730.6) scale(0.91 1)" text-anchor="middle" font-size="15.4" fill="#585b66">Oct</text>
<text transform="translate(1222.2 730.6) scale(0.91 1)" text-anchor="middle" font-size="15.4" fill="#585b66">Nov</text>
<text transform="translate(1324.2 730.6) scale(0.91 1)" text-anchor="middle" font-size="15.4" fill="#585b66">Dec</text>
<text transform="translate(1441.2 730.6) scale(1 1)" text-anchor="middle" font-size="15.4" fill="#434651" class="b">2026</text>
<text transform="translate(1554.2 730.6) scale(0.91 1)" text-anchor="middle" font-size="15.4" fill="#585b66">Feb</text>
<g fill="none" stroke="#ff9800" stroke-width="6.7" stroke-linecap="round" stroke-linejoin="miter"><path d="M1473.4 84.5H1499"/><path d="M1487.8 71.3L1500.2 84.5L1487.8 97.7"/></g>
<g fill="#151515"><path d="M15.5 770.7H30.2V788.8H22.9V778.3H15.5z"/><circle cx="36.8" cy="774.1" r="3.5"/><path d="M43 770.7H52.8L46.7 788.8H37.1z"/></g>
<text y="788.15" font-size="24.98" fill="#151515" class="b" stroke="#151515" stroke-width="0.5" stroke-linejoin="round"><tspan x="62" textLength="150.71" lengthAdjust="spacingAndGlyphs">TradingView</tspan></text>
</svg>
</body></html>
